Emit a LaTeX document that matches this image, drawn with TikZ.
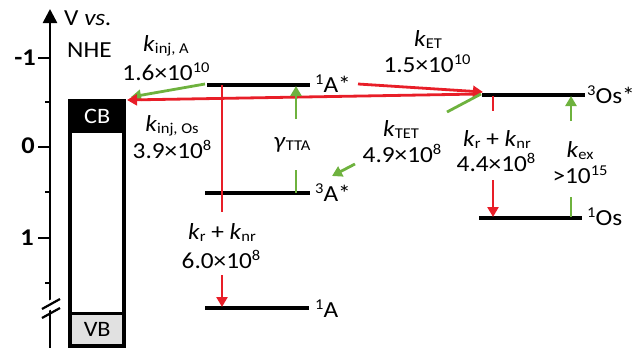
\documentclass[tikz,border=0pt]{standalone}
\usepackage{fontspec}
\setmainfont{Carlito}[FakeStretch=1.1]
\usetikzlibrary{arrows.meta}
\definecolor{myred}{RGB}{232,30,40}
\definecolor{mygreen}{RGB}{110,178,62}
\definecolor{vbgray}{RGB}{225,225,225}
\newcommand{\sps}[1]{\raisebox{0.34em}{\fontsize{15}{15}\selectfont #1}}
\newcommand{\sbs}[1]{\raisebox{-0.12em}{\fontsize{15}{15}\selectfont #1}}
\newcommand{\kk}[1]{\textit{k}\sbs{#1}}
\tikzset{
  lev/.style={line width=3.5pt, black},
  redl/.style={line width=2.8pt, myred},
  grnl/.style={line width=2.8pt, mygreen},
  tipr/.style={-{Triangle[length=10pt,width=11pt]}},
  lbl/.style={font=\fontsize{23}{25}\selectfont, inner sep=0pt, anchor=base},
  lblw/.style={lbl, anchor=base west},
  ticklbl/.style={font=\fontsize{24}{26}\selectfont\bfseries, inner sep=0pt, anchor=base east},
}
\begin{document}
\begin{tikzpicture}[x=1pt,y=-1pt]
\useasboundingbox (0,0) rectangle (638,348);
% axis
\coordinate (axbot) at (50,348);
\coordinate (axtop) at (50,9);
\draw[line width=2.6pt, -{Triangle[length=14pt,width=14pt]}] (axbot) -- (axtop);
\foreach \y in {58,147,238}{
  \draw[line width=2.6pt] (38,\y) -- (50,\y);
}
\foreach \y in {102,192,283}{
  \draw[line width=2.6pt] (45,\y) -- (50,\y);
}
\node[ticklbl] (tm1) at (36,65) {-1};
\node[ticklbl] (t0) at (35,153) {0};
\node[ticklbl] (t1) at (34,245) {1};
% axis break
\fill[white] (42,304) -- (60,295) -- (60,305) -- (42,314) -- cycle;
\draw[line width=2.2pt] (42,309) -- (60,299);
\draw[line width=2.2pt] (42,318) -- (60,308);
\node[lblw] (V) at (64,25) {V \textit{vs.}};
\node[lblw] (NHE) at (67,57) {NHE};
% CB / VB box
\node[fill=black, minimum width=58pt, minimum height=34pt, inner sep=0pt, anchor=north west,
      text=white, font=\fontsize{22}{24}\selectfont] (CB) at (68,99) {CB};
\node[fill=vbgray, minimum width=54pt, minimum height=32pt, inner sep=0pt, anchor=north west,
      font=\fontsize{22}{24}\selectfont] (VB) at (70,313) {VB};
\draw[line width=3.5pt] (70,101) rectangle (124,346);
\draw[line width=3pt] (70,313) -- (124,313);
% levels
\coordinate (a1sL) at (207,85); \coordinate (a1sR) at (310,85);
\coordinate (a3sL) at (205,193); \coordinate (a3sR) at (310,193);
\coordinate (a1L) at (205,308); \coordinate (a1R) at (309,308);
\coordinate (o3sL) at (482,95); \coordinate (o3sR) at (585,95);
\coordinate (o1L) at (479,218); \coordinate (o1R) at (582,218);
\draw[lev] (a1sL) -- (a1sR);
\draw[lev] (a3sL) -- (a3sR);
\draw[lev] (a1L) -- (a1R);
\draw[lev] (o3sL) -- (o3sR);
\draw[lev] (o1L) -- (o1R);
\node[lblw] (A1s) at (315,92) {\sps{1}A*};
\node[lblw] (A3s) at (315,201) {\sps{3}A*};
\node[lblw] (A1) at (315,317) {\sps{1}A};
\node[lblw] (O3s) at (587,103) {\sps{3}Os*};
\node[lblw] (O1) at (587,225) {\sps{1}Os};
% injection arrows
\coordinate (cbR) at (127,100);
\coordinate (cbG) at (131,97);
\coordinate (osStart) at (480,94);
\draw[grnl, tipr] (205,84) -- (cbG);
\draw[redl, tipr] (osStart) -- (cbR);
\node[lbl] (kinjA) at (166,51) {\kk{inj, A}};
\node[lbl] (kinjAv) at (166,80) {1.6×10\sps{10}};
\node[lbl] (kinjOs) at (172,131) {\kk{inj, Os}};
\node[lbl] (kinjOsv) at (172,158) {3.9×10\sps{8}};
% ET
\coordinate (etS) at (358,84);
\coordinate (etE) at (483,92);
\draw[redl, tipr] (etS) -- (etE);
\node[lbl] (kET) at (428,46) {\kk{ET}};
\node[lbl] (kETv) at (427,72) {1.5×10\sps{10}};
% TET
\coordinate (tetS) at (481,94);
\coordinate (tetM) at (447,112);
\coordinate (tetA) at (355,164);
\coordinate (tetB) at (332,176);
\draw[grnl] (tetS) -- (tetM);
\draw[grnl, tipr] (tetA) -- (tetB);
\node[lbl] (kTET) at (401,136) {\kk{TET}};
\node[lbl] (kTETv) at (402,162) {4.9×10\sps{8}};
% TTA
\coordinate (ttaL0) at (296,193);
\coordinate (ttaL1) at (296,170);
\coordinate (ttaU0) at (296,119);
\coordinate (ttaU1) at (296,86);
\draw[grnl] (ttaL0) -- (ttaL1);
\draw[grnl, tipr] (ttaU0) -- (ttaU1);
\node[lbl] (gTTA) at (292,148) {\textit{γ}\sbs{TTA}};
% A decay
\coordinate (adU0) at (222,85);
\coordinate (adU1) at (222,212);
\coordinate (adL0) at (222,275);
\coordinate (adL1) at (222,307);
\draw[redl] (adU0) -- (adU1);
\draw[redl, tipr] (adL0) -- (adL1);
\node[lbl] (krA) at (222,239) {\kk{r} + \kk{nr}};
\node[lbl] (krAv) at (221,268) {6.0×10\sps{8}};
% Os decay
\coordinate (odU0) at (493,96);
\coordinate (odU1) at (493,111);
\coordinate (odL0) at (493,180);
\coordinate (odL1) at (493,217);
\draw[redl] (odU0) -- (odU1);
\draw[redl, tipr] (odL0) -- (odL1);
\node[lbl] (krOs) at (497,146) {\kk{r} + \kk{nr}};
\node[lbl] (krOsv) at (496,171) {4.4×10\sps{8}};
% excitation
\coordinate (exL0) at (571,217);
\coordinate (exL1) at (571,197);
\coordinate (exU0) at (571,121);
\coordinate (exU1) at (571,96);
\draw[grnl] (exL0) -- (exL1);
\draw[grnl, tipr] (exU0) -- (exU1);
\node[lbl] (kex) at (580,157) {\kk{ex}};
\node[lbl] (kexv) at (580,183) {>10\sps{15}};
\end{tikzpicture}
\end{document}
